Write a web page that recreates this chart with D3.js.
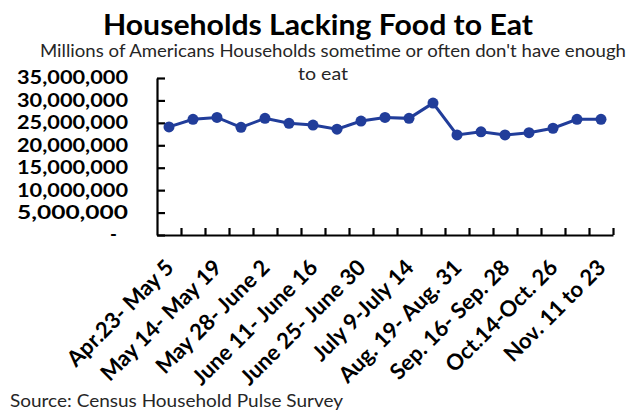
<!DOCTYPE html>
<html><head><meta charset="utf-8">
<script src="https://cdn.jsdelivr.net/npm/d3@7"></script>
<style>body{margin:0;background:#fff}svg{display:block}</style>
</head><body>
<svg id="chart" width="641" height="412"></svg>
<script>
// ---- data ----
const categories = [
  "Apr.23- May 5", "May 7- May 12", "May 14- May 19", "May 21- May 26",
  "May 28- June 2", "June 4- June 9", "June 11- June 16", "June 18- June 23",
  "June 25- June 30", "July 2- July 7", "July 9-July 14", "July 16- July 21",
  "Aug. 19- Aug. 31", "Sep. 2- Sep. 14", "Sep. 16- Sep. 28", "Sep. 30- Oct. 12",
  "Oct.14-Oct. 26", "Oct. 28- Nov. 9", "Nov. 11 to 23"
];
const households = [
  24100000, 25800000, 26200000, 24000000, 26000000, 24900000, 24500000,
  23600000, 25400000, 26200000, 26000000, 29400000, 22300000, 23000000,
  22300000, 22800000, 23800000, 25800000, 25800000
];
const yTickValues = [0, 5000000, 10000000, 15000000, 20000000, 25000000, 30000000, 35000000];
const titleText = "Households Lacking Food to Eat";
const subtitleLines = ["Millions of Americans Households sometime or often don't have enough", "to eat"];
const sourceText = "Source: Census Household Pulse Survey";

// ---- layout ----
const svg = d3.select("#chart");
const plotLeft = 157, plotRight = 613, plotTop = 78, plotBottom = 235;
const FONT = "Lato, 'Open Sans', sans-serif";
const lineColor = "#213d9a";

const x = d3.scaleBand().domain(categories).range([plotLeft, plotRight]).padding(0);
const xIdx = d3.scaleLinear().domain([0, categories.length]).range([plotLeft, plotRight]);
const y = d3.scaleLinear().domain([0, 35000000]).range([plotBottom, plotTop]);

// title
svg.append("text").attr("x", 318).attr("y", 35).attr("text-anchor", "middle")
  .attr("font-family", FONT).attr("font-weight", 700).attr("font-size", 28)
  .attr("fill", "#000").attr("textLength", 430).attr("lengthAdjust", "spacingAndGlyphs")
  .text(titleText);
svg.append("text").attr("x", 333).attr("y", 57).attr("text-anchor", "middle")
  .attr("font-family", FONT).attr("font-size", 18).attr("fill", "#262626")
  .attr("textLength", 586).attr("lengthAdjust", "spacingAndGlyphs")
  .text(subtitleLines[0]);
svg.append("text").attr("x", 323).attr("y", 80).attr("text-anchor", "middle")
  .attr("font-family", FONT).attr("font-size", 18).attr("fill", "#262626")
  .attr("textLength", 50).attr("lengthAdjust", "spacingAndGlyphs")
  .text(subtitleLines[1]);

// y axis
const yAxis = d3.axisLeft(y).tickValues(yTickValues).tickSize(-8).tickSizeOuter(0).tickPadding(29)
  .tickFormat(d => d === 0 ? "-" : d3.format(",")(d));
const gy = svg.append("g").attr("transform", `translate(${plotLeft},0)`).call(yAxis);
gy.select(".domain").attr("stroke", "#000").attr("stroke-width", 2.2);
gy.selectAll(".tick line").attr("stroke", "#000").attr("stroke-width", 2.2);
gy.selectAll(".tick text").attr("font-family", FONT).attr("font-weight", 700)
  .attr("font-size", 18.5).attr("fill", "#000")
  .attr("textLength", d => d === 0 ? null : 111).attr("lengthAdjust", "spacingAndGlyphs")
  .attr("dx", d => d === 0 ? -11 : 0);

// x axis (tick marks on category boundaries)
const xAxis = d3.axisBottom(xIdx).tickValues(d3.range(1, categories.length + 1))
  .tickSize(-7).tickSizeOuter(0).tickFormat("");
const gx = svg.append("g").attr("transform", `translate(0,${plotBottom})`).call(xAxis);
gx.select(".domain").attr("stroke", "#000").attr("stroke-width", 2.2);
gx.selectAll(".tick line").attr("stroke", "#000").attr("stroke-width", 2.2);

// x labels every other category
svg.append("g").selectAll("text")
  .data(categories.filter((d, i) => i % 2 === 0))
  .join("text")
  .attr("transform", d => `translate(${x(d) + x.bandwidth() / 2 + 6},${plotBottom + 34}) rotate(-45)`)
  .attr("text-anchor", "end")
  .attr("font-family", FONT).attr("font-weight", 700).attr("font-size", 22).attr("fill", "#000")
  .text(d => d);

// line + markers
const cx = d => x(d) + x.bandwidth() / 2;
const pts = categories.map((c, i) => ({c, v: households[i]}));
svg.append("path").datum(pts)
  .attr("fill", "none").attr("stroke", lineColor).attr("stroke-width", 3)
  .attr("d", d3.line().x(d => cx(d.c)).y(d => y(d.v)));
svg.append("g").selectAll("circle").data(pts).join("circle")
  .attr("cx", d => cx(d.c)).attr("cy", d => y(d.v)).attr("r", 5.5).attr("fill", lineColor);

// source
svg.append("text").attr("x", 10).attr("y", 407)
  .attr("font-family", FONT).attr("font-size", 18).attr("fill", "#262626")
  .attr("textLength", 333).attr("lengthAdjust", "spacingAndGlyphs")
  .text(sourceText);
</script>
</body></html>
